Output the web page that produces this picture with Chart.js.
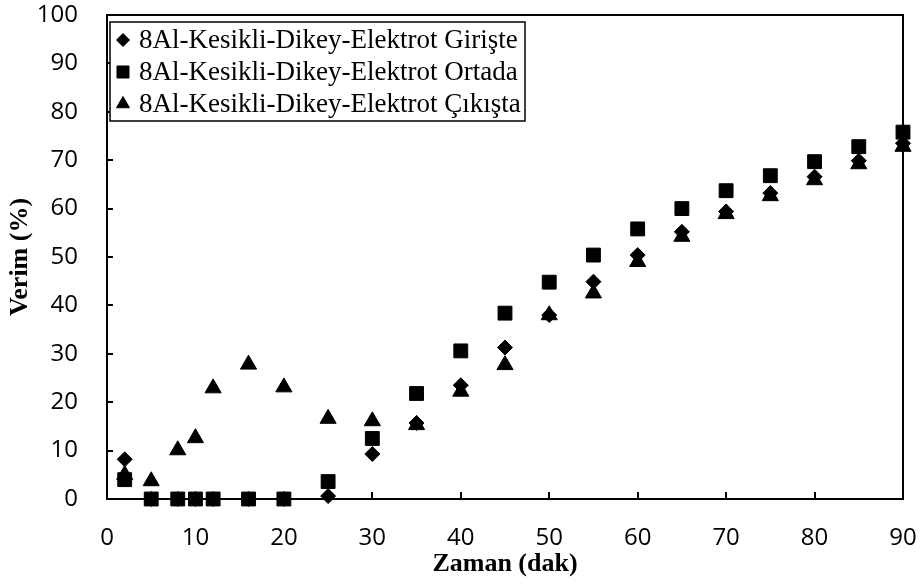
<!DOCTYPE html>
<html>
<head>
<meta charset="utf-8">
<script src="https://cdn.jsdelivr.net/npm/chart.js@4.4.0/dist/chart.umd.min.js"></script>
<style>
  html, body { margin: 0; padding: 0; background: #fff; }
  #wrap { width: 924px; height: 584px; }
</style>
</head>
<body>
<div id="wrap"><canvas id="chart"></canvas></div>
<script>
// zaman (dak)
const timeMin = [2, 5, 8, 10, 12, 16, 20, 25, 30, 35, 40, 45, 50, 55, 60, 65, 70, 75, 80, 85, 90];
// verim (%)
const giriste = [8.2, 0, 0, 0, 0, 0, 0, 0.6, 9.3, 15.7, 23.5, 31.3, 38, 44.9, 50.4, 55.2, 59.4, 63.2, 66.6, 69.9, 73.5];
const ortada  = [4.0, 0, 0, 0, 0, 0, 0, 3.6, 12.5, 21.8, 30.6, 38.4, 44.8, 50.4, 55.8, 60, 63.7, 66.8, 69.7, 72.8, 75.8];
const cikista = [5.0, 3.7, 10.1, 12.6, 22.9, 27.8, 23.1, 16.6, 16.1, 15.3, 22.2, 27.7, 38, 42.5, 49, 54.2, 58.9, 62.6, 65.9, 69.2, 72.8];
const xTicks = [0, 10, 20, 30, 40, 50, 60, 70, 80, 90];
const yTicks = [0, 10, 20, 30, 40, 50, 60, 70, 80, 90, 100];

const labels = [
  '8Al-Kesikli-Dikey-Elektrot Girişte',
  '8Al-Kesikli-Dikey-Elektrot Ortada',
  '8Al-Kesikli-Dikey-Elektrot Çıkışta'
];
const legendMarkerRadius = [6.5, 8.5, 7.5];

const toPoints = vals => vals.map((v, i) => ({ x: timeMin[i], y: v }));

// etiket taşması için eklenen iç boşlukları sıfırla
function noLabelPadding(s) {
  s.paddingTop = 0; s.paddingBottom = 0; s.paddingLeft = 0; s.paddingRight = 0;
}

// çerçeve + içe dönük tik çizgileri + lejant
const frameAndTicks = {
  id: 'frameAndTicks',
  beforeDatasetsDraw(chart) {
    const { ctx, chartArea: a, scales } = chart;
    ctx.save();
    ctx.strokeStyle = '#000';
    ctx.lineWidth = 2;
    ctx.strokeRect(a.left, a.top, a.right - a.left, a.bottom - a.top);
    ctx.beginPath();
    xTicks.forEach(t => {
      const px = Math.round(scales.x.getPixelForValue(t));
      ctx.moveTo(px, a.bottom);
      ctx.lineTo(px, a.bottom - 7);
    });
    yTicks.forEach(t => {
      const py = Math.round(scales.y.getPixelForValue(t));
      ctx.moveTo(a.left, py);
      ctx.lineTo(a.left + 6, py);
    });
    ctx.stroke();
    ctx.restore();
  },
  afterDraw(chart) {
    const { ctx, chartArea: a } = chart;
    const bx = a.left + 3, by = a.top + 7, bw = 415, bh = 99;
    ctx.save();
    ctx.fillStyle = '#fff';
    ctx.fillRect(bx, by, bw, bh);
    ctx.strokeStyle = '#000';
    ctx.lineWidth = 1.5;
    ctx.strokeRect(bx, by, bw, bh);
    ctx.font = '27px "Liberation Serif", "Times New Roman", serif';
    ctx.textBaseline = 'middle';
    ctx.textAlign = 'left';
    chart.data.datasets.forEach((ds, i) => {
      const cy = by + 18 + i * 32;
      ctx.fillStyle = '#000';
      ctx.strokeStyle = '#000';
      ctx.lineWidth = 1;
      Chart.helpers.drawPoint(ctx, { pointStyle: ds.pointStyle, radius: legendMarkerRadius[i], rotation: 0, borderWidth: 1 }, bx + 13, cy);
      ctx.fillText(ds.label, bx + 29, cy + 1);
    });
    ctx.restore();
  }
};

const serifBold = { family: '"Liberation Serif", "Times New Roman", serif', size: 26, weight: 'bold' };
const tickFont = { family: '"Open Sans", "Noto Sans", sans-serif', size: 24 };

new Chart(document.getElementById('chart'), {
  type: 'scatter',
  data: {
    datasets: [
      { label: labels[0], data: toPoints(giriste), pointStyle: 'rectRot', pointRadius: 7.5 },
      { label: labels[1], data: toPoints(ortada), pointStyle: 'rect', pointRadius: 9.8 },
      { label: labels[2], data: toPoints(cikista), pointStyle: 'triangle', pointRadius: 9.3 }
    ].map(d => Object.assign(d, {
      backgroundColor: '#000',
      borderColor: '#000',
      borderWidth: 1,
      pointHoverRadius: d.pointRadius,
      clip: false
    }))
  },
  options: {
    responsive: true,
    maintainAspectRatio: false,
    animation: false,
    layout: { padding: { left: 0, top: 15, right: 21, bottom: 0 } },
    plugins: {
      tooltip: { enabled: false },
      legend: { display: false }
    },
    scales: {
      x: {
        type: 'linear',
        min: 0, max: 90,
        afterFit: s => { s.height = 85; noLabelPadding(s); },
        afterBuildTicks: s => { s.ticks = xTicks.map(v => ({ value: v })); },
        grid: { display: false, drawTicks: false },
        border: { display: false },
        ticks: { color: '#000', font: tickFont, padding: 25, maxRotation: 0 },
        title: { display: true, text: 'Zaman (dak)', color: '#000', font: serifBold, padding: { top: 0, bottom: 4 } }
      },
      y: {
        type: 'linear',
        min: 0, max: 100,
        afterFit: s => { s.width = 107; noLabelPadding(s); },
        afterBuildTicks: s => { s.ticks = yTicks.map(v => ({ value: v })); },
        grid: { display: false, drawTicks: false },
        border: { display: false },
        ticks: { color: '#000', font: tickFont, padding: 29 },
        title: { display: true, text: 'Verim (%)', color: '#000', font: serifBold, padding: { top: 5, bottom: 0 } }
      }
    }
  },
  plugins: [frameAndTicks]
});
</script>
</body>
</html>
